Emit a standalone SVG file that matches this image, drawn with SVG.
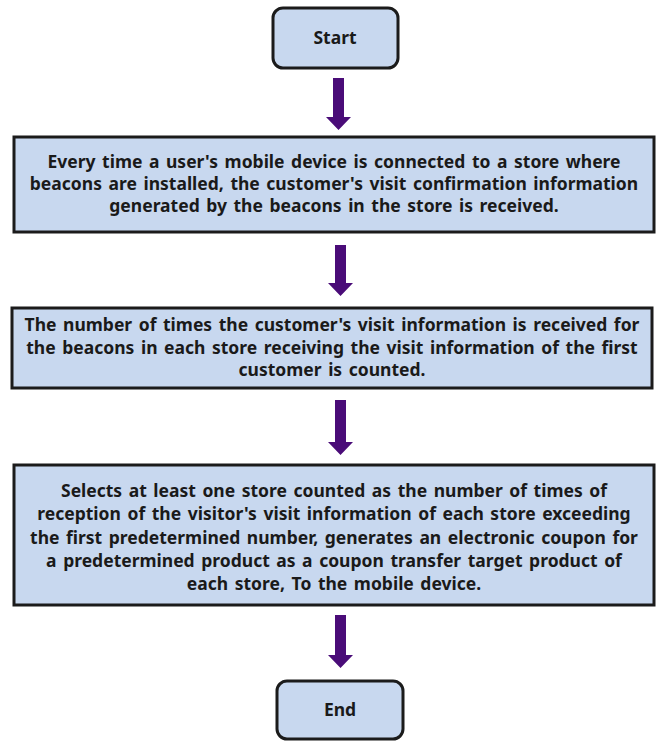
<svg xmlns="http://www.w3.org/2000/svg" width="659" height="747" viewBox="0 0 659 747">
<defs>
<style>
.box{fill:#c8d8ef;stroke:#1b1b1b;stroke-width:3}
.t{font-family:"Noto Sans","Open Sans",sans-serif;font-weight:bold;font-size:17.5px;word-spacing:2px;fill:#1a1a1a;text-anchor:middle}
.arr{fill:#4a0c78}
</style>
</defs>
<rect width="659" height="747" fill="#ffffff"/>
<g id="start">
<rect class="box" x="273" y="8" width="125" height="60" rx="10"/>
<text class="t" x="335" y="44">Start</text>
</g>
<g id="step1">
<rect class="box" x="14" y="137" width="640" height="95"/>
<text class="t" x="334" y="168">Every time a user's mobile device is connected to a store where</text>
<text class="t" x="334" y="190">beacons are installed, the customer's visit confirmation information</text>
<text class="t" x="334" y="212">generated by the beacons in the store is received.</text>
</g>
<g id="step2">
<rect class="box" x="12" y="308" width="640" height="80"/>
<text class="t" x="332" y="331">The number of times the customer's visit information is received for</text>
<text class="t" x="332" y="354">the beacons in each store receiving the visit information of the first</text>
<text class="t" x="332" y="376">customer is counted.</text>
</g>
<g id="step3">
<rect class="box" x="14" y="465" width="640" height="140"/>
<text class="t" x="334" y="497">Selects at least one store counted as the number of times of</text>
<text class="t" x="334" y="520">reception of the visitor's visit information of each store exceeding</text>
<text class="t" x="334" y="544">the first predetermined number, generates an electronic coupon for</text>
<text class="t" x="334" y="567">a predetermined product as a coupon transfer target product of</text>
<text class="t" x="334" y="590">each store, To the mobile device.</text>
</g>
<g id="end">
<rect class="box" x="277" y="681" width="126" height="58" rx="10"/>
<text class="t" x="340" y="716">End</text>
</g>
<g id="connectors">
<polygon class="arr" points="333,78 344,78 344,117 351,117 338.5,130 326,117 333,117"/>
<polygon class="arr" points="335,245 346,245 346,283 353,283 340.5,296 328,283 335,283"/>
<polygon class="arr" points="335,400 346,400 346,442 353,442 340.5,455 328,442 335,442"/>
<polygon class="arr" points="335,615 346,615 346,655 353,655 340.5,668 328,655 335,655"/>
</g>
</svg>
